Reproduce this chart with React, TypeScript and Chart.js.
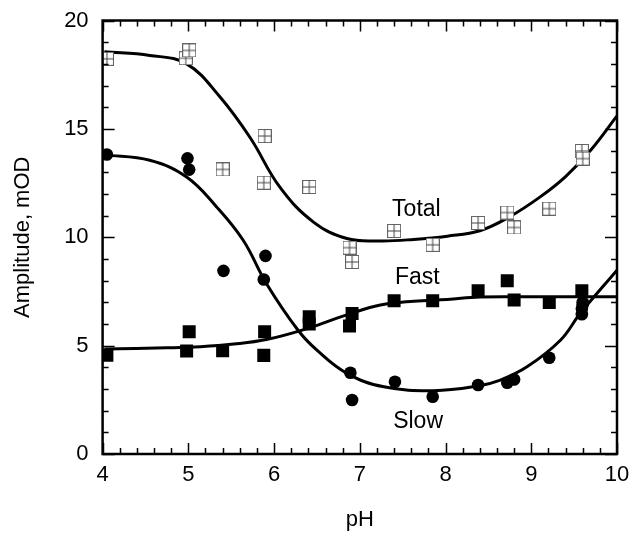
import React, { useEffect, useRef } from "react";
import { Chart, registerables } from "chart.js";

Chart.register(...registerables);

// ---- data ----
const totalPH = [4.05, 4.97, 5.01, 5.40, 5.88, 5.89, 6.41, 6.88, 6.91, 7.40, 7.85, 8.38, 8.72, 8.80, 9.21, 9.59, 9.60];
const totalAmp = [18.23, 18.26, 18.62, 13.13, 12.52, 14.67, 12.32, 9.52, 8.86, 10.29, 9.65, 10.66, 11.14, 10.45, 11.32, 13.98, 13.63];

const fastPH = [4.05, 4.98, 5.01, 5.40, 5.88, 5.89, 6.41, 6.41, 6.88, 6.91, 7.40, 7.85, 8.38, 8.72, 8.80, 9.21, 9.59];
const fastAmp = [4.56, 4.75, 5.64, 4.76, 4.55, 5.64, 6.33, 6.0, 5.9, 6.48, 7.07, 7.07, 7.53, 7.99, 7.1, 6.99, 7.53];

const slowPH = [4.05, 4.99, 5.01, 5.41, 5.88, 5.90, 6.89, 6.91, 7.41, 7.85, 8.38, 8.72, 8.80, 9.21, 9.59, 9.59, 9.60, 9.60];
const slowAmp = [13.82, 13.64, 13.12, 8.45, 8.05, 9.14, 3.75, 2.49, 3.33, 2.64, 3.18, 3.29, 3.44, 4.44, 6.45, 6.7, 6.9, 7.0];

const totalFitPH = [4.02, 4.55, 4.98, 5.37, 5.72, 6.07, 6.46, 6.85, 7.24, 7.63, 8.02, 8.40, 8.75, 9.10, 9.40, 9.70, 10.0];
const totalFitAmp = [18.56, 18.39, 18.0, 16.47, 14.6, 12.3, 10.7, 9.94, 9.83, 9.9, 10.05, 10.3, 10.95, 11.85, 12.8, 14.05, 15.6];

const fastFitPH = [4.02, 4.75, 5.14, 5.53, 5.91, 6.38, 6.85, 7.24, 7.63, 8.02, 8.40, 9.0, 10.0];
const fastFitAmp = [4.85, 4.9, 4.95, 5.07, 5.28, 5.78, 6.42, 6.87, 7.05, 7.13, 7.24, 7.25, 7.25];

const slowFitPH = [4.02, 4.55, 4.98, 5.33, 5.64, 5.91, 6.28, 6.50, 6.85, 7.28, 7.86, 8.37, 8.64, 8.95, 9.34, 9.57, 10.0];
const slowFitAmp = [13.8, 13.55, 12.78, 11.4, 9.86, 7.87, 5.71, 4.79, 3.72, 3.1, 2.92, 3.13, 3.41, 4.02, 5.25, 6.48, 8.48];

const curveNames = ["Total", "Fast", "Slow"];
const curveLabelPH = [7.66, 7.67, 7.68];
const curveLabelAmp = [10.98, 7.83, 1.18];

const xMin = 4, xMax = 10, xMajor = 1, xMinor = 0.2;
const yMin = 0, yMax = 20, yMajor = 5, yMinor = 1;

const FONT = "'Liberation Sans', Arial, Helvetica, sans-serif";

function pts(xs: number[], ys: number[]) {
  return xs.map((x, i) => ({ x, y: ys[i] }));
}

function makeTotalMarker(): HTMLCanvasElement {
  const c = document.createElement("canvas");
  c.width = 14; c.height = 14;
  const g = c.getContext("2d")!;
  g.fillStyle = "#ffffff";
  g.fillRect(0.5, 0.5, 13, 13);
  g.strokeStyle = "#666666";
  g.lineWidth = 1;
  g.strokeRect(0.5, 0.5, 13, 13);
  g.beginPath();
  g.moveTo(7, 0.5); g.lineTo(7, 13.5);
  g.moveTo(0.5, 7); g.lineTo(13.5, 7);
  g.strokeStyle = "#444444";
  g.stroke();
  return c;
}

const framePlugin = {
  id: "frameTicks",
  afterDatasetsDraw(chart: any) {
    const { ctx, chartArea: a, scales } = chart;
    const xs = scales.x, ys = scales.y;
    ctx.save();
    ctx.strokeStyle = "#000";
    ctx.lineWidth = 1.5;
    const eps = 1e-6;
    for (let v = xMin; v <= xMax + eps; v += xMinor) {
      const major = Math.abs(v / xMajor - Math.round(v / xMajor)) < 1e-6;
      const len = major ? 11 : 6;
      const px = Math.round(xs.getPixelForValue(v)) + 0.5;
      ctx.beginPath();
      ctx.moveTo(px, a.bottom); ctx.lineTo(px, a.bottom - len);
      ctx.moveTo(px, a.top); ctx.lineTo(px, a.top + len);
      ctx.stroke();
    }
    for (let v = yMin; v <= yMax + eps; v += yMinor) {
      const major = Math.abs(v / yMajor - Math.round(v / yMajor)) < 1e-6;
      const len = major ? 12 : 6;
      const py = Math.round(ys.getPixelForValue(v)) + 0.5;
      ctx.beginPath();
      ctx.moveTo(a.left, py); ctx.lineTo(a.left + len, py);
      ctx.moveTo(a.right, py); ctx.lineTo(a.right - len, py);
      ctx.stroke();
    }
    ctx.lineWidth = 2.5;
    ctx.strokeRect(a.left, a.top, a.right - a.left, a.bottom - a.top);
    // curve labels
    ctx.fillStyle = "#000";
    ctx.font = `23px ${FONT}`;
    ctx.textAlign = "center";
    ctx.textBaseline = "alphabetic";
    curveNames.forEach((t, i) => {
      ctx.fillText(t, xs.getPixelForValue(curveLabelPH[i]), ys.getPixelForValue(curveLabelAmp[i]));
    });
    ctx.restore();
  },
};

export default function App() {
  const ref = useRef<HTMLCanvasElement | null>(null);
  useEffect(() => {
    document.body.style.margin = "0";
    const marker = makeTotalMarker();
    const lineDs = (xs: number[], ys: number[]) => ({
      type: "line" as const,
      data: pts(xs, ys),
      borderColor: "#000",
      borderWidth: 3,
      pointRadius: 0,
      tension: 0.4,
      fill: false,
      order: 2,
    });
    const hiddenGrid = (len: number) => ({
      display: true,
      drawOnChartArea: false,
      drawTicks: true,
      tickLength: len,
      tickColor: "rgba(0,0,0,0)",
    });
    const chart = new Chart(ref.current!, {
      type: "scatter",
      data: {
        datasets: [
          lineDs(totalFitPH, totalFitAmp),
          lineDs(fastFitPH, fastFitAmp),
          lineDs(slowFitPH, slowFitAmp),
          {
            type: "scatter",
            data: pts(totalPH, totalAmp),
            pointStyle: marker as any,
            pointRadius: 7,
            order: 1,
          },
          {
            type: "scatter",
            data: pts(fastPH, fastAmp),
            pointStyle: "rect",
            pointRadius: 9.2,
            backgroundColor: "#000",
            borderColor: "#000",
            borderWidth: 0,
            order: 1,
          },
          {
            type: "scatter",
            data: pts(slowPH, slowAmp),
            pointStyle: "circle",
            pointRadius: 6.3,
            backgroundColor: "#000",
            borderColor: "#000",
            borderWidth: 0,
            order: 1,
          },
        ] as any,
      },
      options: {
        animation: false,
        responsive: false,
        events: [],
        layout: { padding: 0 },
        plugins: { legend: { display: false }, tooltip: { enabled: false } },
        scales: {
          x: {
            type: "linear",
            position: "bottom",
            min: xMin,
            max: xMax,
            grid: hiddenGrid(8),
            border: { display: false },
            ticks: { stepSize: xMajor, color: "#000", font: { family: FONT, size: 22 }, padding: 0 },
            title: { display: true, text: "pH", color: "#000", font: { family: FONT, size: 22 }, padding: { top: 0, bottom: 2 } },
            afterFit: (s: any) => { s.height = 81; },
          },
          xTop: {
            type: "linear",
            position: "top",
            min: 0,
            max: 1,
            grid: { display: false, drawTicks: false },
            border: { display: false },
            ticks: { display: false },
            afterFit: (s: any) => { s.height = 20.5; },
          },
          y: {
            type: "linear",
            position: "left",
            min: yMin,
            max: yMax,
            grid: hiddenGrid(14),
            border: { display: false },
            ticks: { stepSize: yMajor, color: "#000", font: { family: FONT, size: 22 }, padding: 0 },
            title: { display: true, text: "Amplitude, mOD", color: "#000", font: { family: FONT, size: 22 }, padding: { top: 10, bottom: 0 } },
            afterFit: (s: any) => { s.width = 102.6; },
          },
          yRight: {
            type: "linear",
            position: "right",
            min: 0,
            max: 1,
            grid: { display: false, drawTicks: false },
            border: { display: false },
            ticks: { display: false },
            afterFit: (s: any) => { s.width = 14; },
          },
        },
      } as any,
      plugins: [framePlugin],
    });
    return () => chart.destroy();
  }, []);
  return (
    <div style={{ position: "absolute", left: 0, top: 0, width: 631, height: 535 }}>
      <canvas ref={ref} width={631} height={535} style={{ width: 631, height: 535, display: "block" }} />
    </div>
  );
}
